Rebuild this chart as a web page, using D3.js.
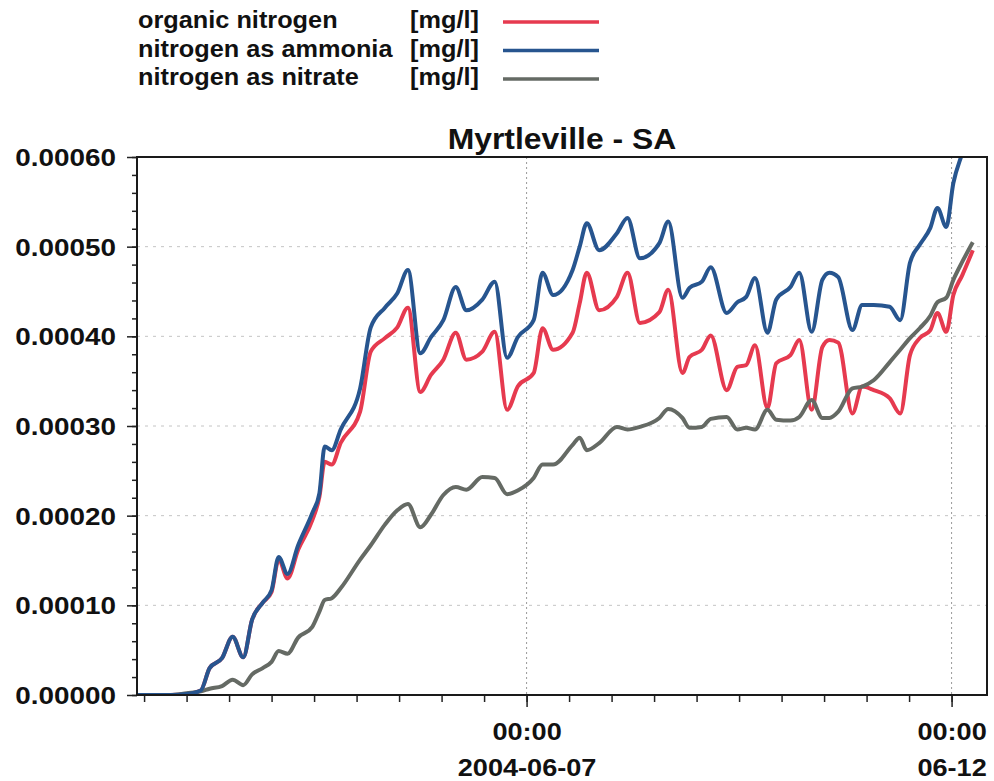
<!DOCTYPE html>
<html>
<head>
<meta charset="utf-8">
<script src="https://cdn.jsdelivr.net/npm/d3@7"></script>
<style>
  body { margin: 0; background: #fff; }
  svg text { font-family: "Liberation Sans", Arial, sans-serif; font-weight: bold; fill: #111; }
</style>
</head>
<body>
<svg id="chart" width="994" height="781"></svg>
<script>
// sample times (local), one value per series for each
const times = [
  "2004-06-02 10:00", "2004-06-02 19:30", "2004-06-03 00:00", "2004-06-03 04:00", "2004-06-03 06:30",
  "2004-06-03 10:00", "2004-06-03 13:00", "2004-06-03 16:00", "2004-06-03 18:30", "2004-06-03 21:30",
  "2004-06-04 00:00", "2004-06-04 02:00", "2004-06-04 04:30", "2004-06-04 07:30", "2004-06-04 11:30",
  "2004-06-04 13:30", "2004-06-04 15:00", "2004-06-04 17:00", "2004-06-04 19:30", "2004-06-05 01:00",
  "2004-06-05 04:00", "2004-06-05 08:00", "2004-06-05 11:30", "2004-06-05 14:30", "2004-06-05 18:00",
  "2004-06-05 21:00", "2004-06-06 00:30", "2004-06-06 04:00", "2004-06-06 07:00", "2004-06-06 11:30",
  "2004-06-06 15:00", "2004-06-06 18:30", "2004-06-06 21:30", "2004-06-07 02:00", "2004-06-07 04:30",
  "2004-06-07 07:30", "2004-06-07 13:00", "2004-06-07 15:00", "2004-06-07 17:00", "2004-06-07 20:30",
  "2004-06-08 01:30", "2004-06-08 04:30", "2004-06-08 08:00", "2004-06-08 13:30", "2004-06-08 16:00",
  "2004-06-08 20:00", "2004-06-08 22:00", "2004-06-09 01:30", "2004-06-09 04:00", "2004-06-09 08:30",
  "2004-06-09 11:30", "2004-06-09 14:00", "2004-06-09 16:30", "2004-06-09 20:00", "2004-06-09 22:30",
  "2004-06-10 02:30", "2004-06-10 05:00", "2004-06-10 08:30", "2004-06-10 11:30", "2004-06-10 13:30",
  "2004-06-10 16:00", "2004-06-10 20:00", "2004-06-10 22:45", "2004-06-11 02:00", "2004-06-11 06:30",
  "2004-06-11 09:30", "2004-06-11 12:15", "2004-06-11 15:00", "2004-06-11 18:00", "2004-06-11 20:00",
  "2004-06-11 22:30", "2004-06-12 00:30", "2004-06-12 03:00", "2004-06-12 06:00"
];

const organicN = [
  0, 0, 0.000001, 0.000005, 0.000030,
  0.000041, 0.000065, 0.000042, 0.000084, 0.000103,
  0.000115, 0.000151, 0.000130, 0.000162, 0.000195,
  0.000221, 0.000260, 0.000257, 0.000281, 0.000316,
  0.000383, 0.000398, 0.000410, 0.000432, 0.000338,
  0.000357, 0.000374, 0.000404, 0.000374, 0.000383,
  0.000405, 0.000318, 0.000344, 0.000359, 0.000409,
  0.000385, 0.000404, 0.000437, 0.000471, 0.000429,
  0.000444, 0.000471, 0.000415, 0.000427, 0.000452,
  0.000359, 0.000377, 0.000385, 0.000401, 0.000340,
  0.000366, 0.000368, 0.000390, 0.000320, 0.000370,
  0.000379, 0.000396, 0.000318, 0.000388, 0.000396,
  0.000393, 0.000314, 0.000344, 0.000340, 0.000331,
  0.000314, 0.000379, 0.000398, 0.000407, 0.000426,
  0.000405, 0.000446, 0.000468, 0.000496
];

const ammoniaN = [
  0, 0, 0.000001, 0.000005, 0.000030,
  0.000041, 0.000065, 0.000042, 0.000084, 0.000103,
  0.000117, 0.000154, 0.000135, 0.000167, 0.000203,
  0.000225, 0.000277, 0.000273, 0.000296, 0.000342,
  0.000410, 0.000432, 0.000448, 0.000474, 0.000381,
  0.000399, 0.000418, 0.000455, 0.000429, 0.000441,
  0.000461, 0.000376, 0.000399, 0.000418, 0.000471,
  0.000446, 0.000474, 0.000500, 0.000526, 0.000496,
  0.000515, 0.000532, 0.000487, 0.000504, 0.000528,
  0.000443, 0.000454, 0.000461, 0.000477, 0.000426,
  0.000438, 0.000444, 0.000465, 0.000404, 0.000441,
  0.000455, 0.000471, 0.000405, 0.000463, 0.000471,
  0.000466, 0.000407, 0.000435, 0.000435, 0.000433,
  0.000418, 0.000482, 0.000502, 0.000521, 0.000543,
  0.000522, 0.000571, 0.000604, 0.000641
];

const nitrateN = [
  0, 0, 0.000002, 0.000004, 0.000007,
  0.000010, 0.000017, 0.000011, 0.000023, 0.000030,
  0.000037, 0.000049, 0.000046, 0.000064, 0.000076,
  0.000093, 0.000106, 0.000108, 0.000119, 0.000151,
  0.000167, 0.000190, 0.000206, 0.000213, 0.000187,
  0.000201, 0.000223, 0.000232, 0.000229, 0.000243,
  0.000242, 0.000224, 0.000228, 0.000242, 0.000257,
  0.000257, 0.000279, 0.000287, 0.000273, 0.000281,
  0.000299, 0.000296, 0.000299, 0.000309, 0.000319,
  0.000309, 0.000298, 0.000299, 0.000308, 0.000310,
  0.000296, 0.000298, 0.000296, 0.000318, 0.000307,
  0.000306, 0.000310, 0.000329, 0.000309, 0.000309,
  0.000316, 0.000342, 0.000344, 0.000351, 0.000371,
  0.000385, 0.000398, 0.000409, 0.000423, 0.000438,
  0.000443, 0.000463, 0.000483, 0.000505
];

const seriesNames = ["organic nitrogen", "nitrogen as ammonia", "nitrogen as nitrate"];
const seriesUnit = "[mg/l]";
const yTicks = [0, 0.0001, 0.0002, 0.0003, 0.0004, 0.0005, 0.0006];
const xDomain = ["2004-06-02 10:00", "2004-06-12 10:00"];
const xLabelTimes = ["2004-06-07 00:00", "2004-06-12 00:00"];
const xLabels = [["00:00", "2004-06-07"], ["00:00", "06-12"]];
const title = "Myrtleville - SA";

const colors = ["#e63a4f", "#27558f", "#656a64"];
const parse = d3.timeParse("%Y-%m-%d %H:%M");

const plot = { left: 137, right: 987, top: 157, bottom: 695 };
const svg = d3.select("#chart");

// stretch text a little wider, the scan's font is broader than arial
function widen(sel, k) {
    sel.each(function() {
        const w = this.getComputedTextLength();
        d3.select(this).attr("textLength", w * k).attr("lengthAdjust", "spacingAndGlyphs");
    });
}

const x = d3.scaleTime().domain(xDomain.map(parse)).range([plot.left, plot.right]);
const y = d3.scaleLinear().domain([0, 0.0006]).range([plot.bottom, plot.top]);

// grid
svg.append("g").selectAll("line")
    .data(yTicks.slice(1, -1))
    .join("line")
    .attr("x1", plot.left).attr("x2", plot.right)
    .attr("y1", d => y(d)).attr("y2", d => y(d))
    .attr("stroke", "#c4c4c4").attr("stroke-width", 1).attr("stroke-dasharray", "3,5");

svg.append("g").selectAll("line")
    .data(xLabelTimes.map(parse))
    .join("line")
    .attr("x1", d => x(d)).attr("x2", d => x(d))
    .attr("y1", plot.top).attr("y2", plot.bottom)
    .attr("stroke", "#9a9a9a").attr("stroke-width", 1).attr("stroke-dasharray", "2,3");

// y axis: minor then major
const yMinor = d3.range(0, 0.00060001, 0.00002);
svg.append("g")
    .attr("transform", `translate(${plot.left},0)`)
    .call(d3.axisLeft(y).tickValues(yMinor).tickSize(5).tickFormat(""))
    .call(g => g.select(".domain").remove())
    .call(g => g.selectAll("line").attr("stroke", "#222").attr("stroke-width", 1.5));

const yAxis = svg.append("g")
    .attr("transform", `translate(${plot.left},0)`)
    .call(d3.axisLeft(y).tickValues(yTicks).tickSize(10).tickPadding(11).tickFormat(d3.format(".5f")))
    .call(g => g.select(".domain").remove())
    .call(g => g.selectAll("line").attr("stroke", "#222").attr("stroke-width", 1.5));
yAxis.selectAll("text")
    .attr("font-size", 24).attr("fill", "#111").attr("font-family", null).attr("dy", "0.36em");
widen(yAxis.selectAll("text"), 1.16);

// x axis: 12 hour ticks and the two labelled ones
const xMinor = d3.timeHour.every(12).range(parse("2004-06-02 12:00"), parse("2004-06-12 10:00"));
svg.append("g")
    .attr("transform", `translate(0,${plot.bottom})`)
    .call(d3.axisBottom(x).tickValues(xMinor).tickSize(7).tickFormat(""))
    .call(g => g.select(".domain").remove())
    .call(g => g.selectAll("line").attr("stroke", "#222").attr("stroke-width", 1.5));

const xMajor = svg.append("g")
    .attr("transform", `translate(0,${plot.bottom})`)
    .call(d3.axisBottom(x).tickValues(xLabelTimes.map(parse)).tickSize(12).tickFormat(""))
    .call(g => g.select(".domain").remove())
    .call(g => g.selectAll("line").attr("stroke", "#222").attr("stroke-width", 1.5));

xMajor.selectAll(".tick").each(function(d, i) {
    const t = d3.select(this).append("text")
        .attr("text-anchor", "middle")
        .attr("font-size", 24)
        .attr("fill", "#111");
    t.append("tspan").attr("x", 0).attr("y", 45).text(xLabels[i][0]);
    t.append("tspan").attr("x", 0).attr("y", 81).text(xLabels[i][1]);
});
xMajor.selectAll("tspan").each(function() {
    const w = this.getComputedTextLength();
    d3.select(this).attr("textLength", w * 1.13).attr("lengthAdjust", "spacingAndGlyphs");
});

// lines
svg.append("clipPath").attr("id", "clip")
    .append("rect")
    .attr("x", plot.left).attr("y", plot.top)
    .attr("width", plot.right - plot.left).attr("height", plot.bottom - plot.top);

const line = d3.line()
    .x(d => x(d[0]))
    .y(d => y(d[1]))
    .curve(d3.curveMonotoneX);

const dates = times.map(parse);
const allSeries = [organicN, ammoniaN, nitrateN];
const drawOrder = [0, 2, 1];

const lines = svg.append("g").attr("clip-path", "url(#clip)");
drawOrder.forEach(k => {
    lines.append("path")
        .datum(dates.map((t, i) => [t, allSeries[k][i]]))
        .attr("fill", "none")
        .attr("stroke", colors[k])
        .attr("stroke-width", 4)
        .attr("stroke-linejoin", "round")
        .attr("d", line);
});

// frame
svg.append("rect")
    .attr("x", plot.left).attr("y", plot.top)
    .attr("width", plot.right - plot.left).attr("height", plot.bottom - plot.top)
    .attr("fill", "none").attr("stroke", "#1a1a1a").attr("stroke-width", 2);

// title
const titleText = svg.append("text")
    .attr("x", (plot.left + plot.right) / 2 + 0)
    .attr("y", 149)
    .attr("text-anchor", "middle")
    .attr("font-size", 29)
    .text(title);
widen(titleText, 1.1);

// legend
const legend = svg.append("g");
seriesNames.forEach((name, i) => {
    const yy = 28 + i * 28.5;
    const t1 = legend.append("text").attr("x", 138).attr("y", yy).attr("font-size", 23).text(name);
    const t2 = legend.append("text").attr("x", 410).attr("y", yy).attr("font-size", 23).text(seriesUnit);
    widen(t1, 1.1);
    widen(t2, 1.1);
    legend.append("line")
        .attr("x1", 503).attr("x2", 599)
        .attr("y1", yy - 6).attr("y2", yy - 6)
        .attr("stroke", colors[i]).attr("stroke-width", 3.5);
});
</script>
</body>
</html>
